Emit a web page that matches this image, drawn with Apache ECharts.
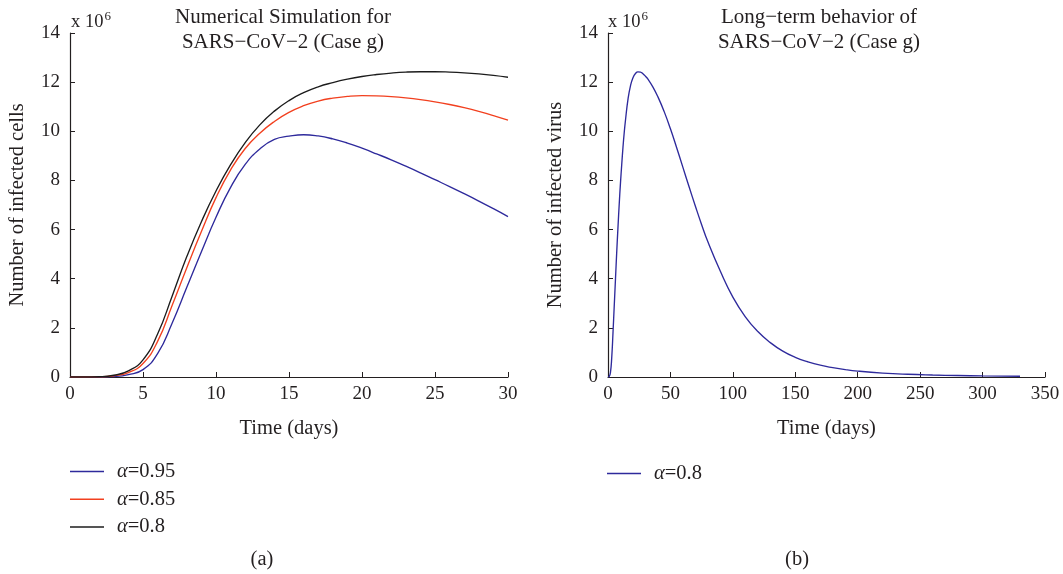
<!DOCTYPE html>
<html>
<head>
<meta charset="utf-8">
<script src="https://cdn.jsdelivr.net/npm/echarts@6/dist/echarts.min.js"></script>
<style>
  html, body { margin: 0; padding: 0; background: #ffffff; }
  #chart { width: 1063px; height: 574px; }
</style>
</head>
<body>
<div id="chart"></div>
<script>
// Panel (a): infected cells (x 10^6) over the first 30 days
const daysA = [0,1,2,3,4,5,6,7,8,9,10,11,12,13,14,15,16,17,18,19,20,21,22,23,24,25,26,27,28,29,30];
const cellsAlpha095 = [0,0,0,0.02,0.1,0.3,0.95,2.2,3.65,5.1,6.5,7.72,8.65,9.28,9.67,9.8,9.86,9.81,9.69,9.52,9.31,9.08,8.84,8.58,8.31,8.03,7.75,7.46,7.16,6.85,6.53];
const cellsAlpha085 = [0,0,0.005,0.05,0.18,0.55,1.45,2.92,4.45,5.92,7.3,8.43,9.3,9.92,10.4,10.77,11.04,11.23,11.35,11.42,11.45,11.44,11.41,11.36,11.29,11.2,11.09,10.96,10.81,10.64,10.45];
const cellsAlpha080 = [0,0,0.01,0.07,0.25,0.7,1.75,3.3,4.9,6.32,7.57,8.64,9.54,10.26,10.82,11.25,11.57,11.81,11.98,12.12,12.23,12.31,12.37,12.41,12.425,12.425,12.41,12.38,12.335,12.275,12.2];

// Panel (b): infected virus (x 10^6), long-term run
const daysB = [0,1,2,3,4,5,6,7,8,9,10,11,12,13,14,16,18,20,22,24,26,28,30,32,36,40,45,50,55,60,65,70,75,80,90,100,110,120,130,140,150,160,170,180,190,200,220,240,260,280,300,330];
const virusAlpha080 = [0,0.02,0.2,0.8,1.8,2.9,4.0,5.1,6.1,7.05,7.9,8.65,9.35,9.95,10.45,11.3,11.85,12.18,12.35,12.42,12.41,12.34,12.24,12.12,11.8,11.4,10.8,10.1,9.33,8.53,7.73,6.95,6.2,5.5,4.3,3.25,2.45,1.85,1.4,1.05,0.8,0.62,0.48,0.38,0.3,0.24,0.16,0.11,0.08,0.06,0.045,0.03];

const ticksA = { min: 0, max: 30, interval: 5 };
const ticksB = { min: 0, max: 350, interval: 50 };
const ticksY = { min: 0, max: 14, interval: 2 };

const titleA = 'Numerical Simulation for\nSARS\u2212CoV\u22122 (Case g)';
const titleB = 'Long\u2212term behavior of\nSARS\u2212CoV\u22122 (Case g)';

const FONT = '"Liberation Serif", "DejaVu Serif", serif';
const INK = '#231f20';
const C_BLUE = '#2e2a9c';
const C_RED = '#f2401f';
const C_BLACK = '#1c1c1c';

const legendLabels = {
  'a095': '{i|\u03b1}=0.95',
  'a085': '{i|\u03b1}=0.85',
  'a080': '{i|\u03b1}=0.8',
  'b080': '{i|\u03b1}=0.8'
};

function pairs(xs, ys) { return xs.map((x, i) => [x, ys[i]]); }

function xAxisOf(gridIndex, t) {
  return {
    type: 'value', gridIndex, min: t.min, max: t.max, interval: t.interval,
    name: 'Time (days)', nameLocation: 'middle', nameGap: 41,
    nameTextStyle: { fontFamily: FONT, fontSize: 20.5, color: INK },
    axisLine: { onZero: false, lineStyle: { color: INK, width: 1.2 } },
    axisTick: { inside: true, length: 5, lineStyle: { color: INK, width: 1 } },
    axisLabel: { fontFamily: FONT, fontSize: 19, color: INK, margin: 8 },
    splitLine: { show: false }
  };
}
function yAxisOf(gridIndex, name) {
  return {
    type: 'value', gridIndex, min: ticksY.min, max: ticksY.max, interval: ticksY.interval,
    name, nameLocation: 'middle', nameGap: 42,
    nameTextStyle: { fontFamily: FONT, fontSize: 20.5, color: INK },
    axisLine: { show: true, onZero: false, lineStyle: { color: INK, width: 1.2 } },
    axisTick: { show: true, inside: true, length: 5, lineStyle: { color: INK, width: 1 } },
    axisLabel: { fontFamily: FONT, fontSize: 19, color: INK, margin: 10 },
    splitLine: { show: false }
  };
}
function lineSeries(name, xi, data, color) {
  return {
    type: 'line', name, xAxisIndex: xi, yAxisIndex: xi, data,
    symbol: 'none', smooth: 0.5,
    lineStyle: { color, width: 1.35 }, itemStyle: { color },
    emphasis: { disabled: true }, animation: false
  };
}

const legendText = {
  fontFamily: FONT, fontSize: 20.5, color: INK, lineHeight: 20, padding: [0, 0, 0, 8],
  rich: { i: { fontFamily: FONT, fontSize: 20.5, fontStyle: 'italic', color: INK } }
};

const chart = echarts.init(document.getElementById('chart'), null, { renderer: 'canvas' });
chart.setOption({
  backgroundColor: '#ffffff',
  animation: false,
  grid: [
    { left: 70, top: 33, width: 438, height: 344, containLabel: false },
    { left: 608, top: 33, width: 437, height: 344, containLabel: false }
  ],
  xAxis: [xAxisOf(0, ticksA), xAxisOf(1, ticksB)],
  yAxis: [yAxisOf(0, 'Number of infected cells'), yAxisOf(1, 'Number of infected virus')],
  legend: [
    {
      orient: 'vertical', left: 65, top: 456, itemWidth: 34, itemHeight: 1.5, itemGap: 6.7,
      icon: 'rect', data: ['a095', 'a085', 'a080'], formatter: n => legendLabels[n],
      textStyle: legendText, selectedMode: false
    },
    {
      orient: 'vertical', left: 602, top: 458, itemWidth: 34, itemHeight: 1.5, itemGap: 6.7,
      icon: 'rect', data: ['b080'], formatter: n => legendLabels[n],
      textStyle: legendText, selectedMode: false
    }
  ],
  series: [
    lineSeries('a095', 0, pairs(daysA, cellsAlpha095), C_BLUE),
    lineSeries('a085', 0, pairs(daysA, cellsAlpha085), C_RED),
    lineSeries('a080', 0, pairs(daysA, cellsAlpha080), C_BLACK),
    lineSeries('b080', 1, pairs(daysB, virusAlpha080), C_BLUE)
  ],
  graphic: [
    { type: 'text', x: 283, y: 30, silent: true,
      style: { text: titleA, fontFamily: FONT, fontSize: 21, lineHeight: 25, fill: INK, textAlign: 'center', textVerticalAlign: 'middle' } },
    { type: 'text', x: 819, y: 30, silent: true,
      style: { text: titleB, fontFamily: FONT, fontSize: 21, lineHeight: 25, fill: INK, textAlign: 'center', textVerticalAlign: 'middle' } },
    { type: 'text', x: 71, y: 22, silent: true,
      style: { text: 'x 10{s|6}', fontFamily: FONT, fontSize: 18.5, fill: INK, textVerticalAlign: 'middle',
        rich: { s: { fontFamily: FONT, fontSize: 13, fill: INK, padding: [0, 0, 10, 1] } } } },
    { type: 'text', x: 608, y: 22, silent: true,
      style: { text: 'x 10{s|6}', fontFamily: FONT, fontSize: 18.5, fill: INK, textVerticalAlign: 'middle',
        rich: { s: { fontFamily: FONT, fontSize: 13, fill: INK, padding: [0, 0, 10, 1] } } } },
    { type: 'text', x: 262, y: 560, silent: true,
      style: { text: '(a)', fontFamily: FONT, fontSize: 20.5, fill: INK, textAlign: 'center', textVerticalAlign: 'middle' } },
    { type: 'text', x: 797, y: 560, silent: true,
      style: { text: '(b)', fontFamily: FONT, fontSize: 20.5, fill: INK, textAlign: 'center', textVerticalAlign: 'middle' } }
  ]
});
</script>
</body>
</html>
